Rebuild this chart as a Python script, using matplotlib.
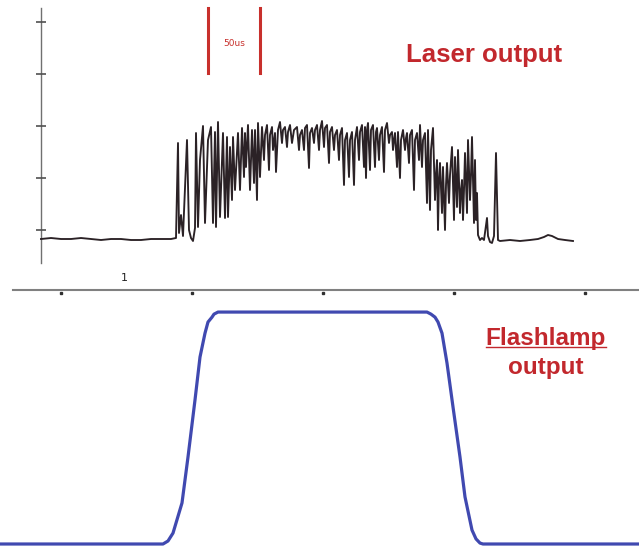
import matplotlib
matplotlib.use("Agg")
from matplotlib import pyplot as plt
from matplotlib.lines import Line2D

# Laser output trace (time in us, amplitude in a.u.)
laser_t = [-20, -10, 0, 10, 20, 30, 40, 50, 60, 70, 80, 90, 100, 110, 115,
           117, 118, 120, 122, 126, 128, 130, 132, 134, 135, 137, 139, 142, 144,
           147, 150, 152, 154, 155, 157, 159, 162, 164, 166, 167, 169, 171, 172,
           174, 177, 179, 181, 183, 184, 185, 187, 189, 191, 193, 194, 196, 197,
           199, 201, 203, 204, 206, 208, 209, 211, 212, 214, 215, 217, 219, 221,
           222, 224, 226, 227, 229, 231, 233, 236, 238, 239, 241, 243, 244, 246,
           248, 249, 251, 253, 254, 256, 258, 259, 261, 263, 264, 266, 268, 269,
           271, 273, 274, 276, 278, 279, 281, 283, 284, 286, 288, 289, 291, 293,
           294, 296, 298, 299, 301, 303, 304, 305, 306, 307, 309, 310, 312, 314,
           315, 316, 318, 319, 321, 323, 324, 326, 328, 329, 331, 332, 333, 334,
           336, 337, 339, 340, 342, 344, 345, 346, 348, 349, 351, 353, 354, 356,
           358, 359, 361, 362, 364, 366, 367, 369, 370, 372, 374, 375, 376, 377,
           378, 379, 381, 382, 384, 385, 386, 388, 389, 391, 393, 394, 396, 397,
           399, 400, 401, 402, 403, 404, 406, 407, 409, 410, 411, 413, 414, 415,
           416, 417, 419, 421, 423, 425, 426, 427, 429, 431, 433, 435, 437, 439,
           449, 459, 469, 477, 483, 487, 491, 497, 504, 512]
laser_a = [-9, -8, -9, -9, -8, -9, -10, -9, -9, -10, -10, -9, -9, -9, -8,
           87, -3, 15, -6, 90, 0, -8, -11, 2, 97, 3, 70, 104, 7,
           90, 103, 7, 98, 3, 108, 13, 97, 12, 93, 13, 83, 30, 93,
           40, 97, 40, 102, 53, 97, 63, 105, 40, 100, 47, 100, 30, 107,
           53, 103, 70, 95, 105, 60, 95, 103, 80, 97, 58, 100, 108, 87,
           100, 103, 83, 98, 105, 87, 100, 103, 80, 95, 100, 80, 102, 105,
           62, 97, 102, 87, 100, 105, 80, 100, 109, 83, 102, 105, 67, 98,
           103, 80, 95, 100, 70, 95, 102, 45, 90, 97, 53, 90, 98, 45,
           90, 103, 70, 98, 105, 63, 103, 52, 100, 107, 60, 100, 105, 63,
           98, 102, 70, 95, 103, 58, 100, 107, 87, 95, 98, 80, 90, 97,
           63, 98, 52, 90, 100, 80, 92, 97, 67, 95, 100, 40, 90, 97,
           70, 105, 63, 90, 97, 27, 100, 20, 80, 102, 30, 55, 70, 0,
           50, 67, 17, 63, 0, 45, 67, 27, 55, 83, 10, 73, 23, 80,
           17, 40, 50, 10, 40, 77, 17, 90, 30, 55, 93, 7, 70, 10,
           37, -5, -10, -8, -10, 5, 12, -6, -12, -13, -6, 77, -10, -11,
           -10, -11, -10, -9, -7, -5, -6, -9, -10, -11]

# Flashlamp output (normalised)
lamp_t = [-61, 102, 107, 112, 121, 127, 134, 139, 144, 147, 151, 153, 157,
          366, 370, 374, 377, 381, 386, 392, 399, 404, 411, 415, 419, 422, 578]
lamp_level = [0, 0, 0.013, 0.047, 0.177, 0.375, 0.621, 0.806, 0.909, 0.957,
              0.978, 0.991, 1.0, 1.0, 0.991, 0.978, 0.957, 0.909, 0.780, 0.591,
              0.375, 0.203, 0.060, 0.022, 0.004, 0, 0]

# axis decorations
time_ticks = [0, 131, 262, 393, 524]
amp_ticks = [0, 52, 104, 156, 208]
scale_bar = [147, 199]

red = '#c2282d'

fig = plt.figure(figsize=(6.39, 5.46), dpi=100)
ax1 = fig.add_axes([0, 246 / 546, 1, 300 / 546])
ax2 = fig.add_axes([0, 0, 1, 246 / 546])
for ax in (ax1, ax2):
    ax.set_xlim(-61, 578)
    ax.axis('off')
ax1.set_ylim(-70, 230)
ax2.set_ylim(-0.0086, 1.052)

# top panel: oscilloscope style trace
ax1.plot([-20, -20], [-33, 222], color='#707070', lw=1.0)
ax1.plot([-20] * len(amp_ticks), amp_ticks, ls='none', marker='_', ms=7,
         mew=1.2, color='#505050')
ax1.plot(laser_t, laser_a, color='#2b2226', lw=1.35)

ax1.plot([-48, 578], [-60, -60], color='#808080', lw=1.5)
ax1.plot(time_ticks, [-62.5] * len(time_ticks), ls='none', marker='s', ms=2,
         color='#303030')
ax1.text(63, -48, '1', fontsize=8, ha='center', va='center', color='#222222')

for t in scale_bar:
    ax1.plot([t, t], [157, 222], color='#c8302c', lw=2.2)
ax1.text(sum(scale_bar) / 2, 186, '50us', fontsize=6.5, ha='center',
         va='center', color='#c8302c')

ax1.text(423, 175, 'Laser output', fontsize=18.5, fontweight='bold',
         family='Liberation Sans', ha='center', va='center', color=red)

# bottom panel: flashlamp pulse
ax2.plot(lamp_t, lamp_level, color='#4049b0', lw=2.3, solid_capstyle='round')
flash = ax2.text(485, 0.888, 'Flashlamp', fontsize=17.5, fontweight='bold',
                 family='Liberation Sans', ha='center', va='center', color=red)
ax2.text(485, 0.759, 'output', fontsize=17.5, fontweight='bold',
         family='Liberation Sans', ha='center', va='center', color=red)

# underline under "Flashlamp"
fig.canvas.draw()
bb = flash.get_window_extent().transformed(fig.transFigure.inverted())
fig.add_artist(Line2D([bb.x0, bb.x1], [bb.y0 + 0.004, bb.y0 + 0.004],
                      transform=fig.transFigure, color=red, lw=1.0))

fig.savefig('out.png', dpi=100)
